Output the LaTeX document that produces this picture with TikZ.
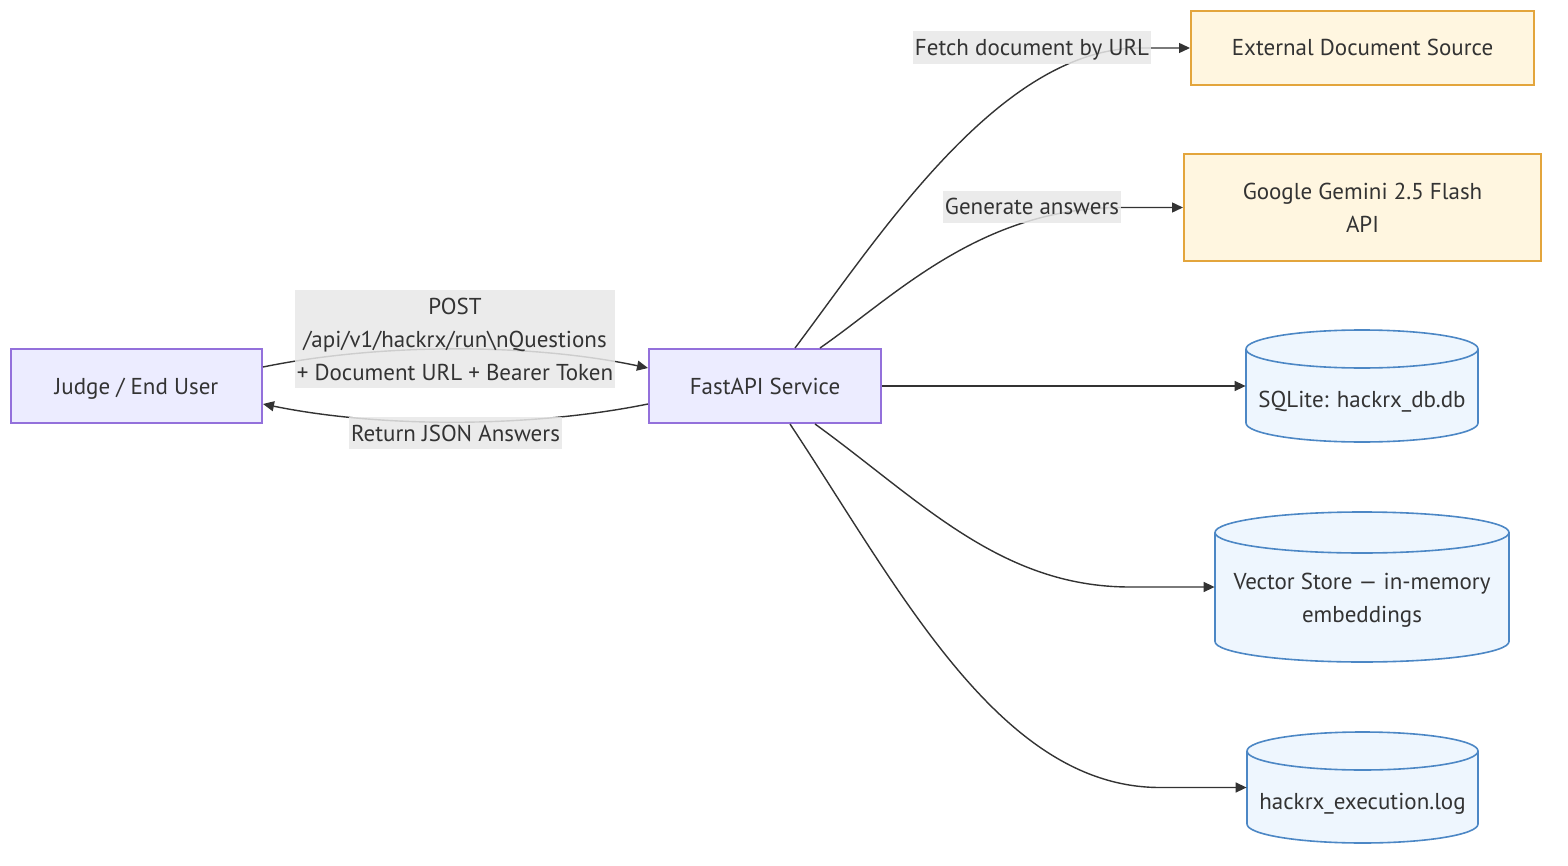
\documentclass[tikz,border=0pt]{standalone}
\usepackage{fontspec}
\setmainfont{PT Sans}
\usetikzlibrary{arrows.meta,calc}
\definecolor{ink}{HTML}{333333}
\definecolor{pfill}{HTML}{ECECFF}
\definecolor{pline}{HTML}{9370DB}
\definecolor{yfill}{HTML}{FFF6E0}
\definecolor{yline}{HTML}{E3A53C}
\definecolor{bfill}{HTML}{EEF6FE}
\definecolor{bline}{HTML}{4C87C5}
\definecolor{lblbg}{HTML}{E8E8E8}
\tikzset{
  every node/.style={font=\fontsize{11.5}{16.5}\selectfont, text=ink},
  oneline/.style={text height=9.4pt, text depth=1.4pt},
  procbox/.style={draw=pline, fill=pfill, line width=1pt, inner sep=0pt, align=center},
  extbox/.style={draw=yline, fill=yfill, line width=1pt, inner sep=0pt, align=center},
  dbshape/.style={draw=bline, fill=bfill, line width=0.8pt},
  dbline/.style={draw=bline, line width=0.8pt},
  dbtext/.style={inner sep=0pt, align=center},
  flow/.style={draw=ink, line width=0.7pt, -{Triangle[length=5.5pt,width=5pt]}},
  lbl/.style={fill=lblbg, fill opacity=0.85, text opacity=1, inner xsep=1pt, inner ysep=0pt, align=center}
}
\newcommand\dbcyl[6]{%
  \pgfmathsetmacro\dbL{#2-#4/2}\pgfmathsetmacro\dbR{#2+#4/2}%
  \pgfmathsetmacro\dbT{#3-#5/2+#6}\pgfmathsetmacro\dbB{#3+#5/2-#6}%
  \pgfmathsetmacro\dbRX{#4/2}%
  \path[dbshape] (\dbL,\dbT) -- (\dbL,\dbB) arc[start angle=180,end angle=0,x radius=\dbRX,y radius=#6] -- (\dbR,\dbT) arc[start angle=0,end angle=-180,x radius=\dbRX,y radius=#6] -- cycle;
  \draw[dbline] (\dbL,\dbT) arc[start angle=180,end angle=0,x radius=\dbRX,y radius=#6];
  \node[minimum width=#4*0.5pt, minimum height=#5*0.5pt, inner sep=0pt] (#1) at (#2,#3) {};
}
\begin{document}
\begin{tikzpicture}[x=0.5pt,y=-0.5pt]
\useasboundingbox (0,0) rectangle (1568,866);
% nodes
\node[procbox, oneline, minimum width=125.5pt, minimum height=37pt] (judge) at (136.5,386) {Judge / End User};
\node[procbox, oneline, minimum width=116pt, minimum height=37pt] (fast) at (765,386) {FastAPI Service};
\node[extbox, oneline, minimum width=171.5pt, minimum height=37pt] (ext) at (1362.5,48) {External Document Source};
\node[extbox, minimum width=178.5pt, minimum height=53.5pt] (gem) at (1362.5,207.5) {Google Gemini 2.5 Flash\\API};
\dbcyl{sql}{1362}{386}{232}{112}{19}
\node[dbtext, oneline] (sqltext) at (1362,399) {SQLite: hackrx\_db.db};
\dbcyl{vec}{1362}{587}{294}{150}{20.5}
\node[dbtext] (vectext) at (1362,600) {Vector Store — in-memory\\embeddings};
\dbcyl{logdb}{1362.5}{787.5}{231}{111}{19}
\node[dbtext, oneline] (logtext) at (1362.5,801) {hackrx\_execution.log};
% connectors
\draw[flow] ($(judge.east)+(0,-19)$) .. controls (380,343) and (530,343) .. ($(fast.west)+(0,-18)$);
\draw[flow] ($(fast.west)+(0,18)$) .. controls (530,428) and (380,428) .. ($(judge.east)+(0,18)$);
\draw[flow] ($(fast.north)+(30,0)$) .. controls (880,235) and (1000,48) .. (1140,48) -- (ext.west);
\draw[flow] ($(fast.north)+(55,0)$) .. controls (895,296) and (980,208) .. (1120,207.5) -- (gem.west);
\draw[flow] (fast.east) -- (sql.west);
\draw[flow] ($(fast.south)+(50,0)$) .. controls (920,500) and (1000,587) .. (1130,587) -- (vec.west);
\draw[flow] ($(fast.south)+(25,0)$) .. controls (900,590) and (1000,787.5) .. (1160,787.5) -- (logdb.west);
% labels
\node[lbl, minimum height=49pt] (postlbl) at (455,339) {POST\\/api/v1/hackrx/run\textbackslash nQuestions\\+ Document URL + Bearer Token};
\node[lbl, oneline, minimum height=16pt] (retlbl) at (455.5,433) {Return JSON Answers};
\node[lbl, oneline, minimum height=16.5pt] (fetchlbl) at (1032,47.5) {Fetch document by URL};
\node[lbl, oneline, minimum height=16pt] (genlbl) at (1032,207) {Generate answers};
\end{tikzpicture}
\end{document}
